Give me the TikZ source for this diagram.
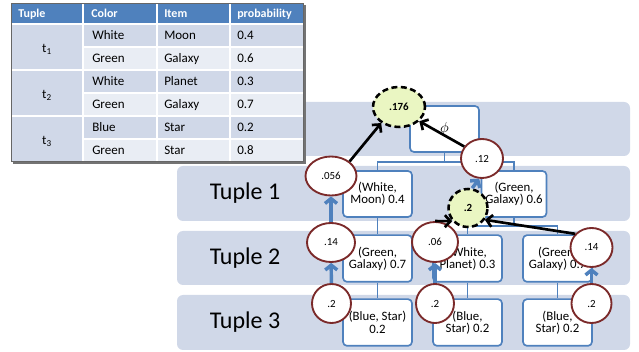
\documentclass[tikz,border=0pt]{standalone}
\usepackage{fontspec}
\setmainfont{Carlito}
\usetikzlibrary{shapes.geometric,arrows.meta}
\definecolor{band}{HTML}{D0D8E8}
\definecolor{bandlt}{HTML}{E9EDF4}
\definecolor{hdr}{HTML}{4F81BD}
\definecolor{treeblue}{HTML}{4F81BD}
\definecolor{probred}{HTML}{7B2A2A}
\definecolor{limefill}{HTML}{EAF6C2}
\begin{document}
\begin{tikzpicture}[x=0.75pt,y=-0.75pt,
  bandbox/.style={fill=band,draw=none,rounded corners=4.5pt},
  tuplelbl/.style={font=\fontsize{18}{20}\selectfont,inner sep=0pt},
  treebox/.style={draw=treeblue,line width=1.25pt,fill=white,rounded corners=3pt,
    align=center,font=\fontsize{9.6}{9.2}\selectfont,inner sep=0pt,
    minimum width=51.75pt,minimum height=35pt},
  probnode/.style={ellipse,draw=probred,line width=1.4pt,fill=white,inner sep=0pt,
    font=\fontsize{8.2}{9}\selectfont},
  sumnode/.style={ellipse,draw=black,line width=1.9pt,dash pattern=on 4.5pt off 2.6pt,
    fill=limefill,inner sep=0pt,font=\bfseries\fontsize{8.2}{9}\selectfont},
  treeline/.style={draw=treeblue,line width=1.25pt},
  bluearrow/.style={draw=treeblue,line width=2.6pt,-{Straight Barb[length=3.6pt,width=9pt]}},
  blackarrow/.style={draw=black,line width=2pt,-{Straight Barb[length=4.2pt,width=9pt]}},
  hdrtxt/.style={anchor=base west,inner sep=0pt,text=white,font=\bfseries\fontsize{9}{10}\selectfont},
  celltxt/.style={anchor=base west,inner sep=0pt,font=\fontsize{9.75}{11}\selectfont},
  sepline/.style={draw=white,line width=1.1pt}
]
\useasboundingbox (0,0) rectangle (639,352);

% background bands
\fill[bandbox] (178,102) rectangle (630,156);
\fill[bandbox] (177,166) rectangle (630,221);
\fill[bandbox] (177,231) rectangle (630,285);
\fill[bandbox] (177,295) rectangle (630,350);
\node[tuplelbl] (tl1) at (245,193) {Tuple 1};
\node[tuplelbl] (tl2) at (245,258) {Tuple 2};
\node[tuplelbl] (tl3) at (245,322) {Tuple 3};

% table
\fill[black!55] (13,5) rectangle (306,164);
\fill[hdr] (11,3) rectangle (303,24);
\fill[band] (11,24) rectangle (83,161);
\fill[band] (83,24) rectangle (303,47);
\fill[bandlt] (83,47) rectangle (303,70);
\fill[band] (83,70) rectangle (303,93);
\fill[bandlt] (83,93) rectangle (303,116);
\fill[band] (83,116) rectangle (303,139);
\fill[bandlt] (83,139) rectangle (303,161);
\draw[sepline] (83,3) -- (83,161) (157,3) -- (157,161) (230,3) -- (230,161);
\draw[sepline] (11,24) -- (303,24) (11,70) -- (303,70) (11,116) -- (303,116);
\draw[sepline] (83,47) -- (303,47) (83,93) -- (303,93) (83,139) -- (303,139);
\draw[black!60,line width=0.6pt] (11,3) rectangle (303,161);

\node[hdrtxt] (h1) at (18,17.5) {Tuple};
\node[hdrtxt] (h2) at (91,17.5) {Color};
\node[hdrtxt] (h3) at (164,17.5) {Item};
\node[hdrtxt] (h4) at (237,17.5) {probability};

\node[celltxt] (c11) at (92,40) {White};
\node[celltxt] (c12) at (164,40) {Moon};
\node[celltxt] (c13) at (237,40) {0.4};
\node[celltxt] (c21) at (92,63) {Green};
\node[celltxt] (c22) at (164,63) {Galaxy};
\node[celltxt] (c23) at (237,63) {0.6};
\node[celltxt] (c31) at (92,86) {White};
\node[celltxt] (c32) at (164,86) {Planet};
\node[celltxt] (c33) at (237,86) {0.3};
\node[celltxt] (c41) at (92,109) {Green};
\node[celltxt] (c42) at (164,109) {Galaxy};
\node[celltxt] (c43) at (237,109) {0.7};
\node[celltxt] (c51) at (92,132) {Blue};
\node[celltxt] (c52) at (164,132) {Star};
\node[celltxt] (c53) at (237,132) {0.2};
\node[celltxt] (c61) at (92,155) {Green};
\node[celltxt] (c62) at (164,155) {Star};
\node[celltxt] (c63) at (237,155) {0.8};
\node[celltxt,anchor=center] (t1) at (47,49) {t\textsubscript{1}};
\node[celltxt,anchor=center] (t2) at (47,95) {t\textsubscript{2}};
\node[celltxt,anchor=center] (t3) at (47,141) {t\textsubscript{3}};

% tree boxes
\node[treebox,minimum height=34.5pt] (root) at (444.5,129) {\fontsize{10.5}{11}\selectfont$\phi$};
\node[treebox,minimum height=34.5pt] (b1a) at (377.5,194) {(White,\\Moon) 0.4};
\node[treebox,minimum height=34.5pt,minimum width=48.75pt] (b1b) at (514,194) {(Green,\\Galaxy) 0.6};
\node[treebox] (b2a) at (377.5,258.5) {(Green,\\Galaxy) 0.7};
\node[treebox] (b2b) at (467.5,258.5) {(White,\\Planet) 0.3};
\node[treebox] (b2c) at (557.5,258.5) {(Green,\\Galaxy) 0.7};
\node[treebox] (b3a) at (377.5,322.5) {(Blue, Star)\\0.2};
\node[treebox] (b3b) at (467.5,322.5) {(Blue,\\Star) 0.2};
\node[treebox] (b3c) at (557.5,322.5) {(Blue,\\Star) 0.2};

% tree connectors
\draw[treeline] (root.south) -- ++(0,9) coordinate (rj);
\draw[treeline] (b1a.north) |- (rj) -| (b1b.north);
\draw[treeline] (b1a.south) -- (b2a.north);
\draw[treeline] (b1b.south) -- ++(0,8) coordinate (j2);
\draw[treeline] (b2b.north) |- (j2) -| (b2c.north);
\draw[treeline] (b2a.south) -- (b3a.north);
\draw[treeline] (b2b.south) -- (b3b.north);
\draw[treeline] (b2c.south) -- (b3c.north);

% probability ellipses
\node[sumnode,minimum width=39pt,minimum height=30pt] (g176) at (399,107) {.176};
\node[probnode,minimum width=31.5pt,minimum height=29.25pt] (n12) at (482,158.5) {.12};
\node[probnode,minimum width=38.25pt,minimum height=29.25pt] (n056) at (331,176) {.056};
\node[sumnode,minimum width=29.25pt,minimum height=28.5pt] (g2) at (468,208) {.2};
\node[probnode,minimum width=36pt,minimum height=29.25pt] (n14a) at (331,242.5) {.14};
\node[probnode,minimum width=34.5pt,minimum height=30pt] (n06) at (435,242) {.06};
\node[probnode,minimum width=31.5pt,minimum height=29.25pt] (n14b) at (591.5,247.5) {.14};
\node[probnode,minimum width=29.25pt,minimum height=29.25pt] (n2a) at (331.5,303.5) {.2};
\node[probnode,minimum width=28.5pt,minimum height=29.25pt] (n2b) at (435,303.5) {.2};
\node[probnode,minimum width=30pt,minimum height=29.25pt] (n2c) at (591.5,303.5) {.2};

% arrows
\draw[bluearrow] (n2a) -- (n14a);
\draw[bluearrow] (n14a) -- (n056);
\draw[bluearrow] (n2b) -- (n06);
\draw[bluearrow] (n2c) -- (n14b);
\draw[bluearrow] (g2.78) -- (n12.262);
\draw[blackarrow] (n056.38) -- (g176.222);
\draw[blackarrow] (n12.146) -- (g176.325);
\draw[blackarrow] (n06.north) -- (g2.220);
\draw[blackarrow] (n14b.140) -- (g2.325);
\end{tikzpicture}
\end{document}
